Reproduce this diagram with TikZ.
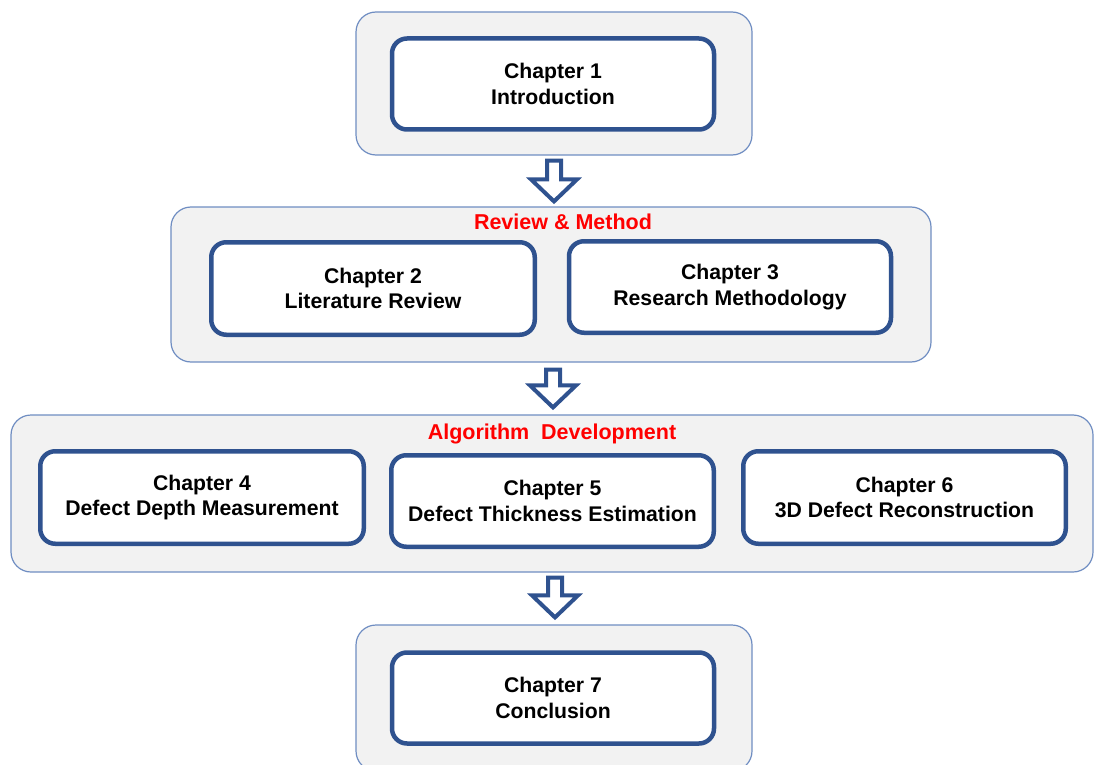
\documentclass[tikz,border=0pt]{standalone}
\usepackage{fontspec}
\setmainfont{Liberation Sans}
\usetikzlibrary{calc}
\definecolor{boxblue}{HTML}{2F528F}
\definecolor{groupblue}{HTML}{6F8DC2}
\definecolor{groupfill}{HTML}{F2F2F2}
\tikzset{
  group/.style={draw=groupblue, line width=1.2pt, fill=groupfill, rounded corners=20pt, inner sep=0pt},
  chapbox/.style={draw=boxblue, line width=4.5pt, fill=white, rounded corners=15pt,
    minimum width=322pt, minimum height=91pt, align=center, inner sep=0pt,
    font=\fontsize{21.2}{25.5}\selectfont\bfseries},
  grouptitle/.style={text=red, font=\fontsize{21.5}{24}\selectfont\bfseries, inner sep=0pt},
  hollowdown/.style={draw=boxblue, line width=4pt, fill=white, line join=miter,
    to path={let \p1=(\tikztostart), \p2=(\tikztotarget) in
      (\x1-7pt,\y1) -- (\x1+7pt,\y1) -- (\x1+7pt,\y2+22pt) -- (\x1+23pt,\y2+22pt)
      -- (\x1,\y2) -- (\x1-23pt,\y2+22pt) -- (\x1-7pt,\y2+22pt) -- cycle}}
}
\begin{document}
\begin{tikzpicture}[x=1pt,y=-1pt]
\useasboundingbox (0,0) rectangle (1095,765);

% chapter groups
\node[group, minimum width=396, minimum height=143] (g1) at (554,83.5) {};
\node[group, minimum width=760, minimum height=155] (g2) at (551,284.5) {};
\node[group, minimum width=1082, minimum height=157] (g3) at (552,493.5) {};
\node[group, minimum width=396, minimum height=146] (g4) at (554,698) {};

% group titles
\node[grouptitle] (t2) at (563,222) {Review \& Method};
\node[grouptitle] (t3) at (552,434) {Algorithm\ \ Development};

% chapters
\node[chapbox] (c1) at (553,84) {Chapter 1\\Introduction};
\node[chapbox, minimum width=323.5, minimum height=92.5] (c2) at (373,288.5) {Chapter 2\\Literature Review};
\node[chapbox, minimum height=91.5] (c3) at (730,287) {Chapter 3\\Research Methodology};
\node[chapbox, minimum width=323.5, minimum height=92.5] (c4) at (202,497.5) {Chapter 4\\Defect Depth Measurement};
\node[chapbox, minimum width=322.5, minimum height=91.5] (c5) at (552.5,501) {Chapter 5\\Defect Thickness Estimation};
\node[chapbox, minimum width=322.5, minimum height=92.5] (c6) at (904.5,497.5) {Chapter 6\\3D Defect Reconstruction};
\node[chapbox] (c7) at (553,698) {Chapter 7\\Conclusion};

% flow between groups
\draw[hollowdown] ([yshift=-5pt]g1.south) to ([yshift=5pt]g2.north);
\path ([xshift=2pt,yshift=-7pt]g2.south) coordinate (a2s);
\draw[hollowdown] (a2s) to ([xshift=2pt,yshift=7pt]g3.north);
\path ([xshift=3pt,yshift=-5pt]g3.south) coordinate (a3s);
\draw[hollowdown] (a3s) to ([xshift=3pt,yshift=7pt]g4.north);
\end{tikzpicture}
\end{document}
